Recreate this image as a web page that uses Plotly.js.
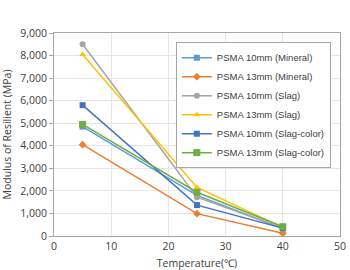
<!DOCTYPE html>
<html><head><meta charset="utf-8">
<script src="https://cdn.plot.ly/plotly-3.0.1.min.js"></script>
<style>body{margin:0;padding:0;background:#fff}#chart{width:350px;height:270px}</style>
</head><body><div id="chart"></div>
<script>
var temps = [5, 25, 40];
var seriesNames = ["PSMA 10mm (Mineral)", "PSMA 13mm (Mineral)", "PSMA 10mm (Slag)", "PSMA 13mm (Slag)", "PSMA 10mm (Slag-color)", "PSMA 13mm (Slag-color)"];
var min10 = [4850, 1800, 330];
var min13 = [4050, 990, 120];
var slag10 = [8500, 1720, 350];
var slag13 = [8050, 2150, 380];
var sc10 = [5800, 1370, 350];
var sc13 = [4950, 1940, 410];
var yTicks = [0, 1000, 2000, 3000, 4000, 5000, 6000, 7000, 8000, 9000];
var yTickText = ["0", "1,000", "2,000", "3,000", "4,000", "5,000", "6,000", "7,000", "8,000", "9,000"];

var colors = ["#5B9BD5", "#ED7D31", "#A5A5A5", "#FFC000", "#4472C4", "#70AD47"];
var symbols = ["square", "diamond", "circle", "triangle-up", "square", "square-x"];
var data = [min10, min13, slag10, slag13, sc10, sc13];
var traces = data.map(function(d, i){
  return {x: temps, y: d, name: seriesNames[i], type: "scatter", mode: "lines+markers",
    line: {color: colors[i], width: 1.5},
    marker: {color: colors[i], symbol: symbols[i], size: 6, line: {color: colors[i], width: i===5?1:0}}};
});
var layout = {
  width: 350, height: 270,
  margin: {l: 54, r: 10, t: 33, b: 34, autoexpand: false},
  paper_bgcolor: "#fff", plot_bgcolor: "#fff",
  font: {family: "Open Sans, Liberation Sans, sans-serif", size: 10.5, color: "#404040"},
  xaxis: {range: [0, 50], tickvals: [0,10,20,30,40,50], showgrid: true, gridcolor: "#E6E6E6",
    zeroline: false, showline: true, linecolor: "#A6A6A6", mirror: true, ticks: "",
    title: {text: "Temperature(℃)", font: {size: 10.5}, standoff: 10}},
  yaxis: {range: [0, 9000], tickvals: yTicks, ticktext: yTickText, showgrid: true, gridcolor: "#E6E6E6",
    zeroline: false, showline: true, linecolor: "#A6A6A6", mirror: true, ticks: "outside", ticklen: 4, tickcolor: "#A6A6A6",
    title: {text: "Modulus of Resilient (MPa)", font: {size: 10.5}, standoff: 6}},
  showlegend: true,
  legend: {x: 0.968, y: 0.955, xanchor: "right", yanchor: "top", bgcolor: "#fff", bordercolor: "#A6A6A6", borderwidth: 1,
    font: {family: "Liberation Sans Narrow, Liberation Sans, sans-serif", size: 9.5, color: "#404040"}, tracegroupgap: 0, itemwidth: 30}
};
Plotly.newPlot("chart", traces, layout, {displayModeBar: false, staticPlot: true});
</script></body></html>
